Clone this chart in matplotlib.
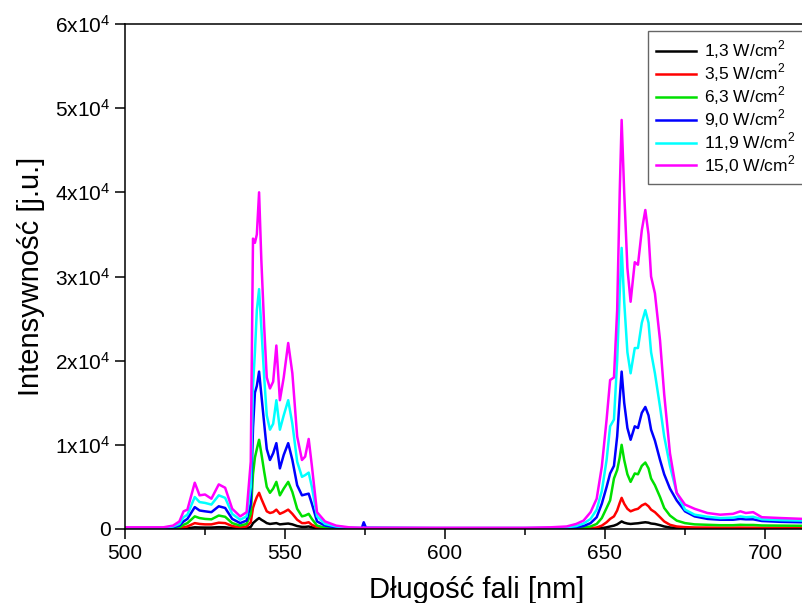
import matplotlib
matplotlib.use("Agg")
import matplotlib.pyplot as plt
import numpy as np

plt.rcParams['font.family'] = ['Liberation Sans', 'DejaVu Sans']
plt.rcParams['mathtext.fontset'] = 'custom'
plt.rcParams['mathtext.rm'] = 'Liberation Sans'

# wavelength grid (nm) and intensities
dlugosc = [500, 512, 515, 517, 518.3, 519.5, 521.8, 523.3, 525, 527, 529.3, 531.3, 533.5, 536, 538,
           539.3, 540, 540.6, 541.2, 541.9, 542.6, 543.5, 544.3, 545.3, 546.3, 547.3, 548.4, 549.6, 551,
           552.3, 553.8, 555.3, 556.3, 557.4, 558.4, 560, 562.5, 566, 570, 574, 574.6, 575.3, 600, 625,
           633, 638, 641, 643.3, 645.5, 647.4, 649, 650.5, 651.6, 652.8, 653.8, 654.6, 655.2, 656, 657,
           658, 659.3, 660.3, 661.5, 662.6, 663.6, 664.4, 665.6, 667.2, 668.5, 670.3, 672.4, 675, 678,
           682, 686, 690, 692.3, 694, 696.3, 699, 705, 712]

i_150 = [200, 200, 400, 900, 2100, 2300, 5500, 4000, 4100, 3600, 5300, 4900, 2400, 1500, 2000,
         8000, 34500, 34000, 35000, 40000, 32000, 24000, 18000, 16700, 17500, 21800, 15300, 18000, 22100,
         18500, 11000, 8200, 8600, 10700, 7500, 2000, 900, 400, 200, 150, 150, 150, 150, 150,
         200, 300, 600, 1000, 2000, 3600, 7400, 13000, 17700, 18000, 26000, 40000, 48600, 40000, 31000,
         27000, 31700, 31400, 35500, 37900, 35000, 30000, 28000, 22400, 16000, 9000, 4300, 2900, 2400,
         1900, 1700, 1800, 2100, 1900, 2000, 1400, 1300, 1200]
i_119 = [150, 150, 300, 600, 1400, 1700, 3800, 3200, 3100, 2900, 4000, 3700, 1800, 1100, 1500,
         5000, 17000, 21000, 26000, 28500, 24000, 18000, 13500, 11800, 12500, 15300, 11800, 13500, 15300,
         12500, 8000, 6200, 6400, 6700, 5000, 1500, 600, 300, 150, 120, 120, 120, 120, 120,
         150, 200, 350, 650, 1200, 2300, 4500, 8200, 12200, 13000, 20000, 28000, 33400, 27000, 21000,
         18500, 21500, 21500, 24500, 26000, 24500, 21000, 18500, 14500, 11000, 7500, 4300, 2300, 1700,
         1450, 1300, 1350, 1500, 1400, 1450, 1150, 1050, 1000]
i_90 = [100, 100, 200, 400, 900, 1200, 2600, 2200, 2100, 2000, 2700, 2500, 1200, 700, 1000,
        3000, 12000, 16200, 17000, 18700, 16000, 12500, 9500, 8200, 9000, 10200, 7200, 8800, 10200,
        8200, 5200, 4000, 4100, 4200, 3000, 900, 400, 200, 100, 100, 800, 150, 80, 80,
        100, 120, 200, 350, 700, 1400, 3000, 5000, 6600, 7500, 11000, 15500, 18700, 15000, 12000,
        10600, 12200, 12000, 13800, 14500, 13500, 11800, 10500, 8200, 6500, 4800, 3400, 2100, 1500,
        1200, 1100, 1100, 1200, 1150, 1150, 950, 850, 800]
i_63 = [50, 50, 100, 200, 500, 700, 1500, 1300, 1200, 1150, 1600, 1450, 700, 400, 600,
        1800, 6500, 8500, 9500, 10600, 9000, 6800, 5000, 4300, 4800, 5600, 4000, 4800, 5600,
        4400, 2400, 1500, 1600, 1800, 1200, 400, 150, 80, 50, 50, 50, 50, 40, 40,
        50, 60, 80, 150, 300, 600, 1300, 2500, 3400, 6000, 7000, 8500, 10000, 8200, 6500,
        5600, 6600, 6500, 7500, 7900, 7200, 6000, 5200, 3800, 2500, 1600, 1000, 700, 550,
        500, 450, 450, 500, 480, 480, 420, 400, 380]
i_35 = [20, 20, 50, 100, 200, 300, 700, 600, 550, 550, 750, 700, 350, 200, 300,
        800, 2500, 3200, 3800, 4300, 3600, 2800, 2100, 1900, 2000, 2300, 1800, 2000, 2300,
        1800, 1100, 700, 700, 800, 500, 200, 80, 40, 20, 20, 20, 20, 20, 20,
        20, 20, 30, 50, 90, 180, 400, 800, 1200, 1500, 2200, 3100, 3700, 3000, 2400,
        2100, 2300, 2400, 2800, 3000, 2700, 2300, 2000, 1400, 900, 500, 300, 220, 180,
        170, 160, 160, 170, 160, 160, 150, 140, 130]
i_13 = [0, 0, 10, 30, 60, 80, 200, 180, 170, 170, 220, 200, 100, 60, 100,
        250, 700, 900, 1100, 1300, 1100, 900, 700, 600, 650, 700, 550, 600, 650,
        550, 350, 250, 250, 300, 200, 60, 20, 10, 5, 5, 5, 5, 5, 5,
        5, 5, 10, 15, 25, 50, 100, 200, 300, 400, 550, 750, 900, 750, 650,
        600, 650, 680, 750, 800, 750, 650, 600, 450, 300, 180, 120, 80, 60,
        50, 50, 50, 50, 50, 50, 45, 40, 40]

serie = [i_13, i_35, i_63, i_90, i_119, i_150]
etykiety = ['1,3 W/cm$^2$', '3,5 W/cm$^2$', '6,3 W/cm$^2$',
            '9,0 W/cm$^2$', '11,9 W/cm$^2$', '15,0 W/cm$^2$']
kolory = ['#000000', '#ff0000', '#00e000', '#0000ff', '#00ffff', '#ff00ff']

fig = plt.figure(figsize=(8.03, 6.03), dpi=100)
ax = fig.add_axes([125/803, 74/603, (220*3.2)/803, 505/603])

for y, lab, kol in zip(serie, etykiety, kolory):
    ax.plot(dlugosc, y, color=kol, lw=1.8, label=lab)

ax.set_xlim(500, 720)
ax.set_ylim(0, 60000)
ax.set_xticks([500, 550, 600, 650, 700])
ax.set_xticks([525, 575, 625, 675], minor=True)
yt = [0, 10000, 20000, 30000, 40000, 50000, 60000]
ax.set_yticks(yt)
ax.set_yticklabels(['0'] + [r'$\mathregular{%dx10^4}$' % (v // 10000) for v in yt[1:]])
ax.tick_params(which='major', direction='out', length=7, width=1.1, labelsize=15, pad=3.5)
ax.tick_params(which='minor', direction='out', length=4, width=1.1)
for s in ax.spines.values():
    s.set_linewidth(1.1)

ax.set_xlabel('Długość fali [nm]', fontsize=21, labelpad=10)
ax.set_ylabel('Intensywność [j.u.]', fontsize=21, labelpad=7)

leg = ax.legend(loc='upper left', bbox_to_anchor=(648/803, 1 - 31/603), bbox_transform=fig.transFigure,
                borderaxespad=0, fontsize=12.5, fancybox=False, edgecolor='#666666', framealpha=1,
                handlelength=2.3, handletextpad=0.5, labelspacing=0.02, borderpad=0.45)
leg.get_frame().set_linewidth(1.0)

fig.savefig('out.png', dpi=100)
